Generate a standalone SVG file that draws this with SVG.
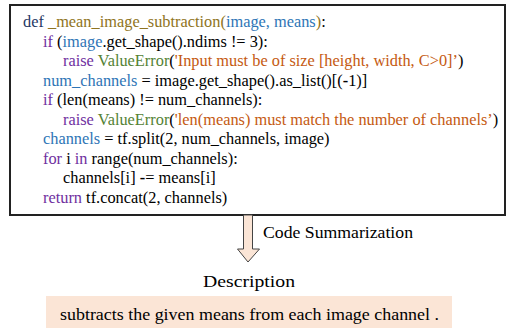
<svg xmlns="http://www.w3.org/2000/svg" width="507" height="328" viewBox="0 0 507 328">
<style>
text{font-family:"Liberation Serif","Times New Roman",serif;fill:#000;}
.code{font-size:16.35px;}
.kw{fill:#7030a0;}
.def{fill:#1f3864;}
.fn{fill:#8f7422;}
.var{fill:#2e75b6;}
.cls{fill:#548235;}
.str{fill:#c55a11;}
.lbl{font-size:17px;}
</style>
<g id="code-box">
<rect x="10" y="5" width="495" height="210" fill="#fff" stroke="#222" stroke-width="2"/>
<text class="code" x="23" y="27"><tspan class="def">def</tspan> <tspan class="fn">_mean_image_subtraction(</tspan><tspan class="var">image, means</tspan><tspan class="fn">)</tspan>:</text>
<text class="code" x="43" y="46.5"><tspan class="kw">if</tspan> (<tspan class="var">image</tspan>.get_shape().ndims != 3):</text>
<text class="code" x="63" y="66"><tspan class="kw">raise</tspan> <tspan class="cls">ValueError</tspan>(<tspan class="str">'Input must be of size [height, width, C&gt;0]’</tspan>)</text>
<text class="code" x="43" y="85.5"><tspan class="var">num_channels</tspan> = image.get_shape().as_list()[(<tspan font-weight="bold">-</tspan>1)]</text>
<text class="code" x="43" y="105"><tspan class="kw">if</tspan> (len(means) != num_channels):</text>
<text class="code" x="63" y="124.5"><tspan class="kw">raise</tspan> <tspan class="cls">ValueError</tspan>(<tspan class="str">'len(means) must match the number of channels’</tspan>)</text>
<text class="code" x="43" y="144"><tspan class="var">channels</tspan> = tf.split(2, num_channels, image)</text>
<text class="code" x="43" y="163.5"><tspan class="kw">for</tspan> i <tspan class="kw">in</tspan> range(num_channels):</text>
<text class="code" x="63" y="183">channels[i] <tspan font-weight="bold">-</tspan>= means[i]</text>
<text class="code" x="43" y="202.5"><tspan class="kw">return</tspan> tf.concat(2, channels)</text>
</g>
<g id="connectors">
<path d="M243.5,215 L252.5,215 L252.5,249 L259.5,249 L248,262 L237.5,249 L243.5,249 Z" fill="#fbe5d6" stroke="#444" stroke-width="1"/>
<text class="lbl" x="263" y="238" textLength="150" lengthAdjust="spacingAndGlyphs">Code Summarization</text>
</g>
<g id="description">
<text class="lbl" x="203" y="287" textLength="92" lengthAdjust="spacingAndGlyphs">Description</text>
<rect x="46" y="296" width="406" height="32" fill="#fbe5d6"/>
<text class="lbl" x="60" y="320" textLength="379" lengthAdjust="spacingAndGlyphs">subtracts the given means from each image channel .</text>
</g>
</svg>
